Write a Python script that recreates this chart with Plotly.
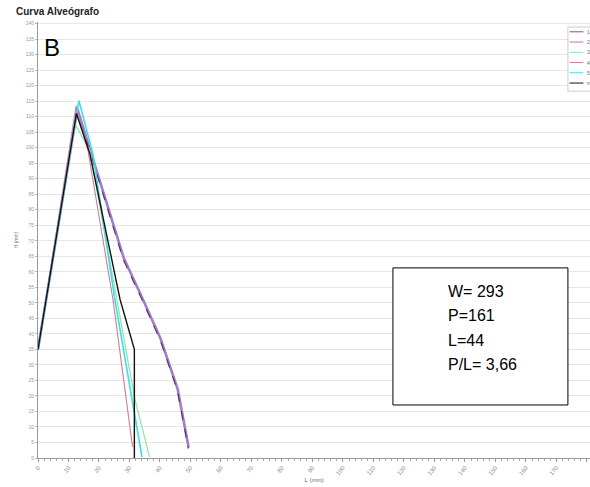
import plotly.graph_objects as go

# Alveograph curves: L (mm) vs H (mm), five repeats plus the mean curve
names = ["1", "2", "3", "4", "5", "m"]

x_1 = [0, 6.2, 12.7, 17.1, 28.0, 34.2, 40.1, 45.7, 49.3]
y_1 = [35, 73, 111.5, 98.5, 63.8, 50.8, 37.9, 21.8, 3.0]

x_2 = [0, 6.3, 12.9, 17.2, 28.1, 34.3, 40.2, 45.8, 49.4]
y_2 = [35, 73, 112.5, 99.0, 64.5, 51.3, 38.4, 22.2, 3.4]

x_3 = [0, 6.0, 12.2, 17.0, 25.9, 31.8, 36.6]
y_3 = [35, 71, 107.5, 99.0, 51.0, 18.8, 0.3]

x_4 = [0, 6.1, 12.5, 16.4, 24.6, 31.0]
y_4 = [35, 73, 113.5, 99.0, 51.0, 3.6]

x_5 = [0, 6.6, 13.4, 18.0, 25.2, 34.1]
y_5 = [35, 75, 115.2, 98.0, 51.1, 0.3]

x_m = [0, 6.2, 12.6, 17.0, 26.9, 31.6, 31.6]
y_m = [35, 73, 111.0, 98.0, 51.1, 35.0, 0.0]

x_ticks = list(range(0, 181, 10))
y_ticks = list(range(0, 141, 5))

stats_lines = ["W= 293", "P=161", "L=44", "P/L= 3,66"]

series = [
    (x_2, y_2, dict(color="#a07ccc", width=2.6)),
    (x_1, y_1, dict(color="#6e2a56", width=1.1, dash="dash")),
    (x_3, y_3, dict(color="#92e6ab", width=1.3)),
    (x_4, y_4, dict(color="#cf7c98", width=1.1)),
    (x_5, y_5, dict(color="#3fdde6", width=1.6)),
    (x_m, y_m, dict(color="#111111", width=1.4)),
]
legend_colors = ["#b04060", "#a07ccc", "#92e6ab", "#cf7c98", "#3fdde6", "#111111"]

fig = go.Figure()
for xs, ys, ln in series:
    fig.add_trace(go.Scatter(x=xs, y=ys, mode="lines", line=ln,
                             showlegend=False, hoverinfo="skip"))

fig.update_layout(
    width=590, height=487,
    margin=dict(l=38, r=0, t=22, b=29, autoexpand=False),
    paper_bgcolor="white", plot_bgcolor="white",
    font=dict(family="Arial, Liberation Sans, sans-serif", color="#555"),
    showlegend=False,
)
fig.update_xaxes(
    range=[0, 181], tickvals=x_ticks, ticktext=[str(v) for v in x_ticks],
    tickangle=-50, tickfont=dict(size=6, color="#888"),
    showgrid=False, zeroline=False,
    showline=True, linecolor="#999", linewidth=1,
    ticks="outside", ticklen=3, tickcolor="#999",
    minor=dict(ticks="outside", ticklen=2, dtick=2, tickcolor="#aaa"),
    title=dict(text="L (mm)", font=dict(size=6, color="#666"), standoff=2),
)
fig.update_yaxes(
    range=[0, 140.5], tickvals=y_ticks, ticktext=[str(v) for v in y_ticks],
    tickfont=dict(size=5, color="#999"),
    showgrid=True, gridcolor="#e6e6e6", gridwidth=1, zeroline=False,
    showline=True, linecolor="#999", linewidth=1,
    ticks="outside", ticklen=2, tickcolor="#bbb",
    title=dict(text="H (mm)", font=dict(size=5, color="#777"), standoff=6),
)

# Chart title and panel letter
fig.add_annotation(xref="paper", yref="paper", x=-0.043, y=1.0, yanchor="bottom",
                   xanchor="left", text="<b>Curva Alveógrafo</b>", showarrow=False,
                   font=dict(size=10, color="#222", family="Liberation Sans, Arial"),
                   yshift=3)
fig.add_annotation(xref="paper", yref="paper", x=0.0254, y=0.942, xanchor="center",
                   yanchor="middle", text="B", showarrow=False,
                   font=dict(size=24, color="#000", family="Liberation Sans, Arial"))

# Stats box
fig.add_shape(type="rect", xref="paper", yref="paper",
              x0=0.643, x1=0.960, y0=0.1216, y1=0.436,
              line=dict(color="#000", width=1), fillcolor="white", layer="above")
for i, t in enumerate(stats_lines):
    fig.add_annotation(xref="paper", yref="paper", x=0.739,
                       y=0.383 - i * 0.0565, xanchor="left", yanchor="middle",
                       text=t, showarrow=False,
                       font=dict(size=16, color="#000", family="Liberation Sans, Arial"))

# Compact legend in the top-right corner
lx0, lx1 = 0.960, 1.02
ly_top, ly_bot = 0.9885, 0.8415
fig.add_shape(type="rect", xref="paper", yref="paper", x0=lx0, x1=lx1,
              y0=ly_bot, y1=ly_top, line=dict(color="#ccc", width=1),
              fillcolor="white", layer="above")
for i, (nm, col) in enumerate(zip(names, legend_colors)):
    yy = ly_top - 0.011 - i * 0.0235
    fig.add_shape(type="line", xref="paper", yref="paper", x0=0.963, x1=0.988,
                  y0=yy, y1=yy, line=dict(color=col, width=1), layer="above")
    fig.add_annotation(xref="paper", yref="paper", x=0.991, y=yy, xanchor="left",
                       yanchor="middle", text=nm, showarrow=False,
                       font=dict(size=5, color="#666"))

fig.write_html("out.html")
